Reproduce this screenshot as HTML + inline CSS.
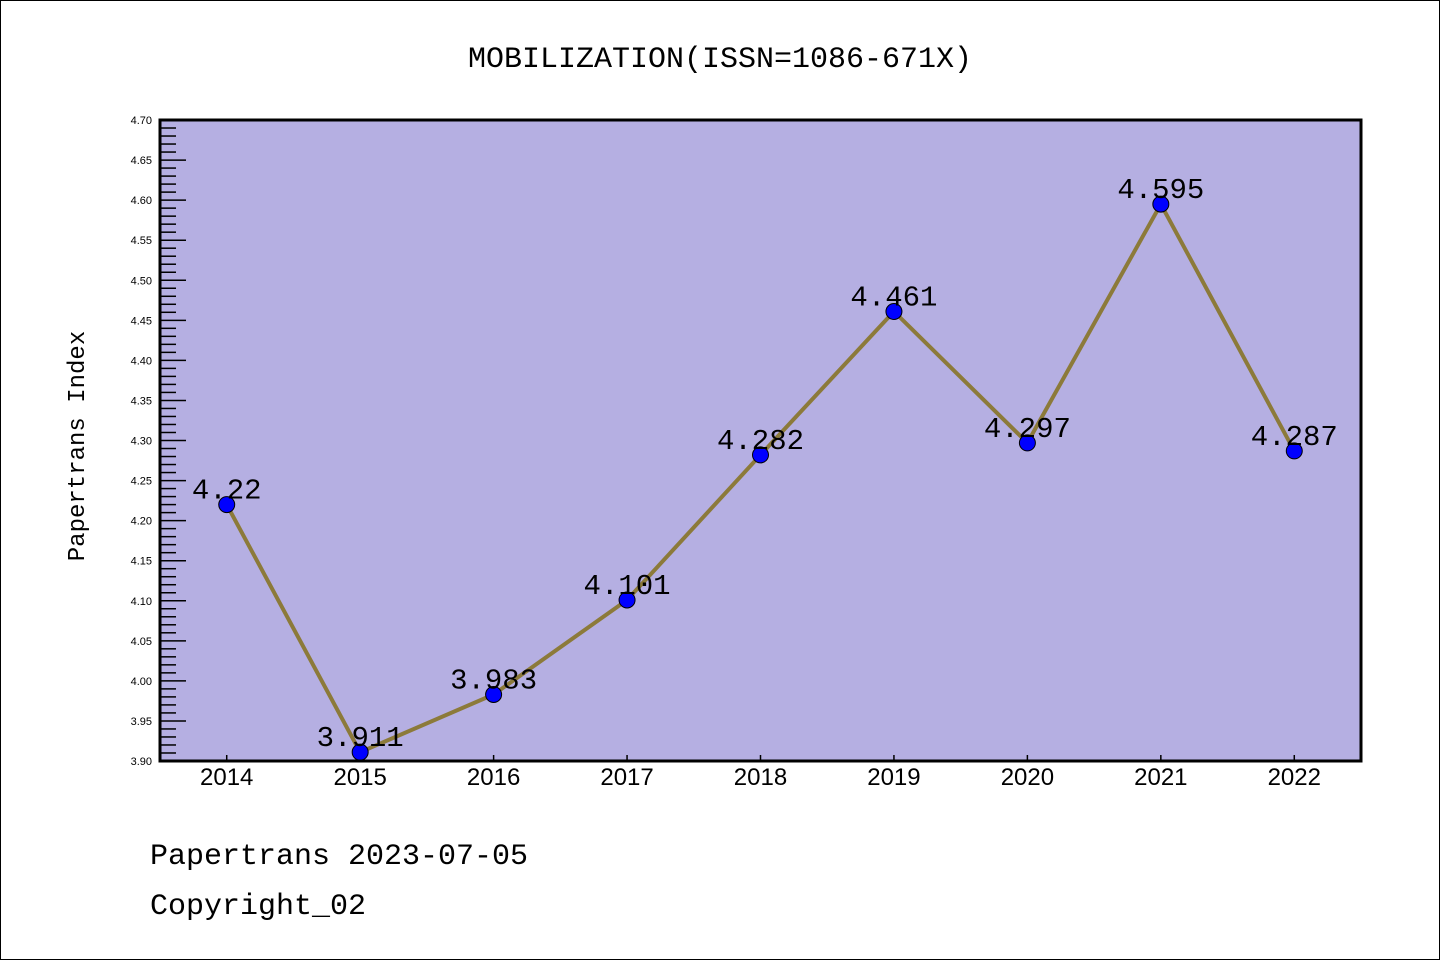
<!DOCTYPE html>
<html><head><meta charset="utf-8"><style>
body{margin:0;background:#fff}
svg{display:block;font-family:"Liberation Mono","Noto Sans CJK SC",monospace}
</style></head><body>
<svg width="1440" height="960" viewBox="0 0 1440 960" xmlns="http://www.w3.org/2000/svg">
<rect x="0.5" y="0.5" width="1439" height="959" fill="#fff" stroke="#000"/>
<text x="720" y="67" text-anchor="middle" font-size="30">MOBILIZATION(ISSN=1086-671X)</text>
<rect x="160" y="120" width="1201" height="641" fill="#b5afe2"/>
<g id="ticks"></g>
<g id="series"></g>
<rect x="160" y="120" width="1201" height="641" fill="none" stroke="#000" stroke-width="3"/>
<text transform="translate(84,446) rotate(-90)" text-anchor="middle" font-size="24">Papertrans Index</text>
<text x="150" y="864" font-size="30">Papertrans 2023-07-05</text>
<text x="150" y="914" font-size="30">Copyright_02</text>
</svg>
<script>
const years=["2014","2015","2016","2017","2018","2019","2020","2021","2022"];
const values=[4.22,3.911,3.983,4.101,4.282,4.461,4.297,4.595,4.287];
const labels=["4.22","3.911","3.983","4.101","4.282","4.461","4.297","4.595","4.287"];
const yTicks=["3.90","3.95","4.00","4.05","4.10","4.15","4.20","4.25","4.30","4.35","4.40","4.45","4.50","4.55","4.60","4.65","4.70"];
const NS="http://www.w3.org/2000/svg";
const X0=160,X1=1361,Y0=761,Y1=120,ymin=3.9,ymax=4.7;
const xs=i=>X0+(i+0.5)*(X1-X0)/years.length;
const ys=v=>Y0-(v-ymin)/(ymax-ymin)*(Y0-Y1);
function mk(t,a,p){const e=document.createElementNS(NS,t);for(const k in a)e.setAttribute(k,a[k]);p.appendChild(e);return e;}
const tg=document.getElementById('ticks'),sg=document.getElementById('series');
for(let k=0;k<=80;k++){const v=ymin+k*0.01,y=ys(v),maj=k%5===0;
 const l=mk('line',{x1:X0,x2:X0+(maj?26:16),y1:y,y2:y,stroke:'#000','stroke-width':1.5},tg);
 
 }
yTicks.forEach(s=>{const t=mk('text',{x:152,y:ys(+s)+4,'text-anchor':'end','font-size':11,'font-family':'Liberation Sans, sans-serif'},tg);t.textContent=s;
 
 });
years.forEach((yr,i)=>{const x=xs(i);
 const l=mk('line',{x1:x,x2:x,y1:Y0,y2:Y0-6,stroke:'#000','stroke-width':1.5},tg);
 
 
 const t=mk('text',{x:x,y:785,'text-anchor':'middle','font-size':24,'font-family':'Liberation Sans, sans-serif'},tg);t.textContent=yr;
 
 });
const pl=mk('polyline',{points:values.map((v,i)=>xs(i)+','+ys(v)).join(' '),fill:'none',stroke:'#8c7a3a','stroke-width':4},sg);


values.forEach((v,i)=>{
 const c=mk('circle',{cx:xs(i),cy:ys(v),r:8,fill:'#0000ff',stroke:'#000','stroke-width':1},sg);
 
 
 const t=mk('text',{x:xs(i),y:ys(v)-6,'text-anchor':'middle','font-size':29},sg);t.textContent=labels[i];
 
 });
</script>
</body></html>
